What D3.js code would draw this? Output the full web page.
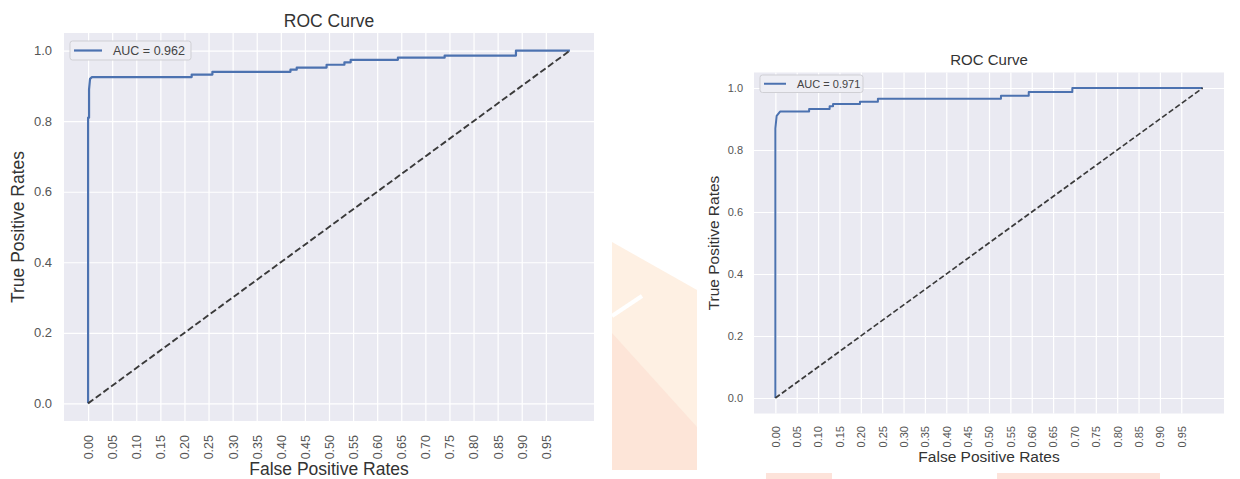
<!DOCTYPE html>
<html>
<head>
<meta charset="utf-8">
<script src="https://cdn.jsdelivr.net/npm/d3@7"></script>
<style>
body { margin: 0; background: #fff; }
svg { display: block; font-family: "Liberation Sans", Arial, sans-serif; }
</style>
</head>
<body>
<script>
// tick labels shared by both plots
var xTickLabels = ["0.00", "0.05", "0.10", "0.15", "0.20", "0.25", "0.30", "0.35", "0.40", "0.45",
                   "0.50", "0.55", "0.60", "0.65", "0.70", "0.75", "0.80", "0.85", "0.90", "0.95"];
var yTickLabels = ["0.0", "0.2", "0.4", "0.6", "0.8", "1.0"];

// left model roc points
var fprLeft = [0, 0, 0.002, 0.002, 0.004, 0.008, 0.215, 0.215, 0.258, 0.258, 0.42, 0.42, 0.433, 0.433,
               0.495, 0.495, 0.532, 0.532, 0.545, 0.545, 0.643, 0.643, 0.74, 0.74, 0.888, 0.888, 1];
var tprLeft = [0, 0.81, 0.81, 0.89, 0.92, 0.925, 0.925, 0.932, 0.932, 0.94, 0.94, 0.946, 0.946, 0.952,
               0.952, 0.96, 0.96, 0.967, 0.967, 0.974, 0.974, 0.98, 0.98, 0.986, 0.986, 1.0, 1.0];
var aucLeft = 0.962;

// right model roc points
var fprRight = [0, 0, 0.003, 0.011, 0.079, 0.079, 0.127, 0.127, 0.135, 0.135, 0.198, 0.198, 0.24, 0.24,
                0.528, 0.528, 0.593, 0.593, 0.695, 0.695, 1];
var tprRight = [0, 0.87, 0.91, 0.924, 0.924, 0.932, 0.932, 0.941, 0.941, 0.948, 0.948, 0.956, 0.956, 0.965,
                0.965, 0.975, 0.975, 0.987, 0.987, 1.0, 1.0];
var aucRight = 0.971;

// chance diagonal
var chanceLine = [0, 1];

var svg = d3.select("body").append("svg")
    .attr("width", 1240)
    .attr("height", 479);

// watermark bits of the scanned page
var wm = svg.append("g");
wm.append("polygon").attr("points", "612,242 697,290 697,470 612,470").attr("fill", "#fef0e3");
wm.append("polygon").attr("points", "612,333 697,427 697,470 612,470").attr("fill", "#fde5d8");
wm.append("line").attr("x1", 612).attr("y1", 316).attr("x2", 642).attr("y2", 296)
    .attr("stroke", "#fff").attr("stroke-width", 4);
wm.append("rect").attr("x", 766).attr("y", 473).attr("width", 66).attr("height", 6).attr("fill", "#fde3da");
wm.append("rect").attr("x", 997).attr("y", 473).attr("width", 163).attr("height", 6).attr("fill", "#fde3da");

var leftCfg = {
    left: 64, right: 594, top: 33, bottom: 421,
    titleY: 27, titleSize: 17.5, labelSize: 17.5, xLabelY: 474.5, yLabelX: 24,
    yTickSize: 13, xTickSize: 12.5, yPad: 12, xPad: 14,
    legend: {dx: 6, dy: 8, w: 121, h: 19, fs: 12.5, lineStart: 4, lineLen: 28, textX: 43},
    curveW: 2.2, dash: "6.5,3", dashW: 1.9
};
var rightCfg = {
    left: 754, right: 1224, top: 72.5, bottom: 413.5,
    titleY: 65, titleSize: 15, labelSize: 15.5, xLabelY: 462, yLabelX: 719,
    yTickSize: 11, xTickSize: 11, yPad: 11, xPad: 12.5,
    legend: {dx: 6, dy: 2.5, w: 103, h: 17.5, fs: 11, lineStart: 4, lineLen: 22, textX: 37},
    curveW: 2, dash: "5.5,2.6", dashW: 1.7
};

function styleGrid(sel){
    sel.select(".domain").remove();
    sel.selectAll(".tick line").attr("stroke", "#fff").attr("stroke-width", 1.2);
}

function drawRoc(cfg, fpr, tpr, auc){
    var g = svg.append("g");
    var x = d3.scaleLinear().domain([-0.05, 1.05]).range([cfg.left, cfg.right]);
    var y = d3.scaleLinear().domain([-0.05, 1.05]).range([cfg.bottom, cfg.top]);
    var xVals = xTickLabels.map(Number);
    var yVals = yTickLabels.map(Number);
    var h = cfg.bottom - cfg.top;
    var w = cfg.right - cfg.left;

    g.append("rect")
        .attr("x", cfg.left).attr("y", cfg.top)
        .attr("width", w).attr("height", h)
        .attr("fill", "#eaeaf2");

    // grid
    g.append("g")
        .attr("transform", "translate(0," + cfg.bottom + ")")
        .call(d3.axisBottom(x).tickValues(xVals).tickSize(-h).tickFormat(""))
        .call(styleGrid);
    g.append("g")
        .attr("transform", "translate(" + cfg.left + ",0)")
        .call(d3.axisLeft(y).tickValues(yVals).tickSize(-w).tickFormat(""))
        .call(styleGrid);

    // tick labels
    var xAx = g.append("g")
        .attr("transform", "translate(0," + cfg.bottom + ")")
        .call(d3.axisBottom(x).tickValues(xVals).tickSize(0)
            .tickFormat(function(d, i){ return xTickLabels[i]; }));
    xAx.select(".domain").remove();
    xAx.selectAll("text")
        .attr("transform", "rotate(-90)")
        .attr("x", -cfg.xPad).attr("y", 0).attr("dy", "0.35em")
        .attr("text-anchor", "end")
        .attr("fill", "#555")
        .style("font-size", cfg.xTickSize + "px")
        .style("font-family", "Liberation Sans, Arial, sans-serif");

    var yAx = g.append("g")
        .attr("transform", "translate(" + cfg.left + ",0)")
        .call(d3.axisLeft(y).tickValues(yVals).tickSize(0).tickPadding(cfg.yPad)
            .tickFormat(function(d, i){ return yTickLabels[i]; }));
    yAx.select(".domain").remove();
    yAx.selectAll("text")
        .attr("fill", "#555")
        .style("font-size", cfg.yTickSize + "px")
        .style("font-family", "Liberation Sans, Arial, sans-serif");

    var line = d3.line()
        .x(function(d){ return x(d[0]); })
        .y(function(d){ return y(d[1]); });

    // roc curve
    g.append("path")
        .datum(d3.zip(fpr, tpr))
        .attr("d", line)
        .attr("fill", "none")
        .attr("stroke", "#4c72b0")
        .attr("stroke-width", cfg.curveW)
        .attr("stroke-linejoin", "round");

    // diagonal
    g.append("path")
        .datum(d3.zip(chanceLine, chanceLine))
        .attr("d", line)
        .attr("fill", "none")
        .attr("stroke", "#3a3a3a")
        .attr("stroke-width", cfg.dashW)
        .attr("stroke-dasharray", cfg.dash);

    // legend
    var lg = cfg.legend;
    var lx = cfg.left + lg.dx, ly = cfg.top + lg.dy;
    g.append("rect")
        .attr("x", lx).attr("y", ly)
        .attr("width", lg.w).attr("height", lg.h)
        .attr("rx", 2.5)
        .attr("fill", "#eeeef4")
        .attr("stroke", "#cfcfd4")
        .attr("stroke-width", 1);
    g.append("line")
        .attr("x1", lx + lg.lineStart).attr("x2", lx + lg.lineStart + lg.lineLen)
        .attr("y1", ly + lg.h / 2).attr("y2", ly + lg.h / 2)
        .attr("stroke", "#4c72b0")
        .attr("stroke-width", cfg.curveW);
    g.append("text")
        .attr("x", lx + lg.textX).attr("y", ly + lg.h / 2)
        .attr("dy", "0.35em")
        .attr("fill", "#444")
        .style("font-size", lg.fs + "px")
        .text("AUC = " + auc);

    // title and axis labels
    g.append("text")
        .attr("x", (cfg.left + cfg.right) / 2).attr("y", cfg.titleY)
        .attr("text-anchor", "middle")
        .attr("fill", "#333")
        .style("font-size", cfg.titleSize + "px")
        .text("ROC Curve");
    g.append("text")
        .attr("x", (cfg.left + cfg.right) / 2).attr("y", cfg.xLabelY)
        .attr("text-anchor", "middle")
        .attr("fill", "#333")
        .style("font-size", cfg.labelSize + "px")
        .text("False Positive Rates");
    g.append("text")
        .attr("transform", "translate(" + cfg.yLabelX + "," + (cfg.top + cfg.bottom) / 2 + ") rotate(-90)")
        .attr("text-anchor", "middle")
        .attr("fill", "#333")
        .style("font-size", cfg.labelSize + "px")
        .text("True Positive Rates");
}

drawRoc(leftCfg, fprLeft, tprLeft, aucLeft);
drawRoc(rightCfg, fprRight, tprRight, aucRight);
</script>
</body>
</html>
